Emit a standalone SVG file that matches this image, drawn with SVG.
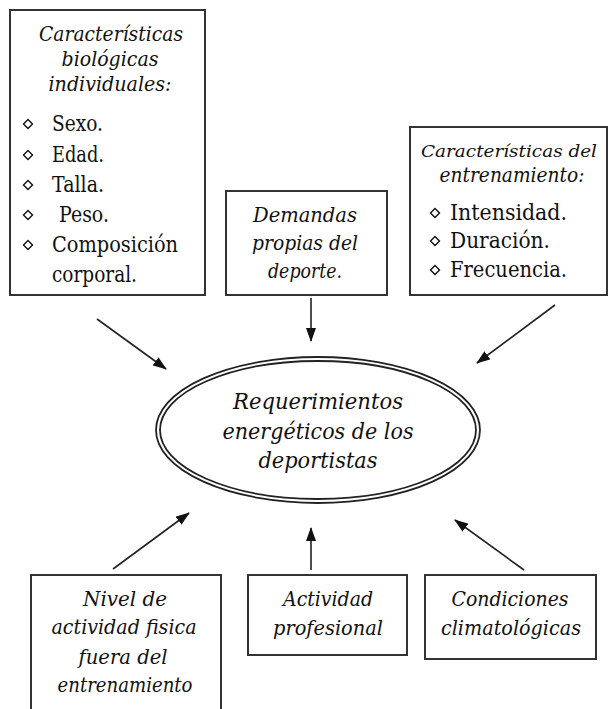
<svg xmlns="http://www.w3.org/2000/svg" width="609" height="709" viewBox="0 0 609 709">
<style>
.box{fill:#fff;stroke:#333;stroke-width:2}
.t{font-family:"DejaVu Serif",serif;font-size:21px;font-style:italic;fill:#111;text-anchor:middle}
.r{font-family:"DejaVu Serif",serif;font-size:22px;fill:#111}
.b{fill:#fff;stroke:#111;stroke-width:1.4}
.c{stroke:#222;stroke-width:1.6;fill:none;marker-end:url(#ah)}
</style>
<defs>
<marker id="ah" markerUnits="userSpaceOnUse" markerWidth="14" markerHeight="10" refX="13" refY="5" orient="auto">
<path d="M0,0 L14,5 L0,10 Z" fill="#111"/>
</marker>
<path id="dia" d="M0,-4.5 L4.5,0 L0,4.5 L-4.5,0 Z"/>
</defs>
<rect width="609" height="709" fill="#fff"/>

<g id="connectors">
<line class="c" x1="97" y1="319" x2="166" y2="369"/>
<line class="c" x1="311" y1="298" x2="311" y2="341"/>
<line class="c" x1="555" y1="305" x2="477" y2="363"/>
<line class="c" x1="113" y1="569" x2="189" y2="513"/>
<line class="c" x1="311" y1="570" x2="311" y2="528"/>
<line class="c" x1="524" y1="570" x2="455" y2="520"/>
</g>

<g id="node-biologicas">
<rect class="box" x="10" y="10" width="195" height="285"/>
<text class="t" x="111" y="41" textLength="144" lengthAdjust="spacingAndGlyphs">Características</text>
<text class="t" x="110" y="66" textLength="97" lengthAdjust="spacingAndGlyphs">biológicas</text>
<text class="t" x="110" y="91" textLength="123" lengthAdjust="spacingAndGlyphs">individuales:</text>
<use href="#dia" class="b" x="28" y="124"/>
<use href="#dia" class="b" x="28" y="155"/>
<use href="#dia" class="b" x="28" y="185"/>
<use href="#dia" class="b" x="28" y="215"/>
<use href="#dia" class="b" x="28" y="245"/>
<text class="r" x="52" y="131" textLength="51" lengthAdjust="spacingAndGlyphs">Sexo.</text>
<text class="r" x="52" y="162" textLength="52" lengthAdjust="spacingAndGlyphs">Edad.</text>
<text class="r" x="52" y="192" textLength="52" lengthAdjust="spacingAndGlyphs">Talla.</text>
<text class="r" x="59" y="222" textLength="50" lengthAdjust="spacingAndGlyphs">Peso.</text>
<text class="r" x="52" y="252" textLength="126" lengthAdjust="spacingAndGlyphs">Composición</text>
<text class="r" x="52" y="282" textLength="85" lengthAdjust="spacingAndGlyphs">corporal.</text>
</g>

<g id="node-demandas">
<rect class="box" x="226" y="191" width="161" height="104"/>
<text class="t" x="305" y="222" textLength="104" lengthAdjust="spacingAndGlyphs">Demandas</text>
<text class="t" x="305" y="250" textLength="106" lengthAdjust="spacingAndGlyphs">propias del</text>
<text class="t" x="305" y="278" textLength="74" lengthAdjust="spacingAndGlyphs">deporte.</text>
</g>

<g id="node-entrenamiento">
<rect class="box" x="410" y="127" width="197" height="168"/>
<text class="t" x="421" y="157" style="text-anchor:start;font-size:17px" textLength="176" lengthAdjust="spacingAndGlyphs">Características del</text>
<text class="t" x="512" y="182" textLength="145" lengthAdjust="spacingAndGlyphs">entrenamiento:</text>
<use href="#dia" class="b" x="435" y="213"/>
<use href="#dia" class="b" x="435" y="241"/>
<use href="#dia" class="b" x="435" y="270"/>
<text class="r" x="450" y="220" textLength="117" lengthAdjust="spacingAndGlyphs">Intensidad.</text>
<text class="r" x="450" y="248" textLength="100" lengthAdjust="spacingAndGlyphs">Duración.</text>
<text class="r" x="450" y="277" textLength="117" lengthAdjust="spacingAndGlyphs">Frecuencia.</text>
</g>

<g id="node-requerimientos">
<ellipse cx="318" cy="430" rx="162" ry="73" fill="#fff" stroke="#222" stroke-width="1.8"/>
<ellipse cx="318" cy="430" rx="158" ry="69" fill="none" stroke="#222" stroke-width="1.8"/>
<text class="t" x="318" y="409" style="font-size:22px" textLength="170" lengthAdjust="spacingAndGlyphs">Requerimientos</text>
<text class="t" x="318" y="439" style="font-size:22px" textLength="191" lengthAdjust="spacingAndGlyphs">energéticos de los</text>
<text class="t" x="318" y="468" style="font-size:22px" textLength="119" lengthAdjust="spacingAndGlyphs">deportistas</text>
</g>

<g id="node-nivel">
<rect class="box" x="31" y="575" width="190" height="160"/>
<text class="t" x="125" y="606" textLength="84" lengthAdjust="spacingAndGlyphs">Nivel  de</text>
<text class="t" x="124" y="634" textLength="145" lengthAdjust="spacingAndGlyphs">actividad fisica</text>
<text class="t" x="123" y="664" textLength="89" lengthAdjust="spacingAndGlyphs">fuera del</text>
<text class="t" x="125" y="692" textLength="135" lengthAdjust="spacingAndGlyphs">entrenamiento</text>
</g>

<g id="node-actividad">
<rect class="box" x="248" y="575" width="159" height="80"/>
<text class="t" x="328" y="606" textLength="90" lengthAdjust="spacingAndGlyphs">Actividad</text>
<text class="t" x="328" y="635" textLength="110" lengthAdjust="spacingAndGlyphs">profesional</text>
</g>

<g id="node-condiciones">
<rect class="box" x="425" y="575" width="171" height="84"/>
<text class="t" x="510" y="606" textLength="117" lengthAdjust="spacingAndGlyphs">Condiciones</text>
<text class="t" x="511" y="635" textLength="140" lengthAdjust="spacingAndGlyphs">climatológicas</text>
</g>
</svg>
